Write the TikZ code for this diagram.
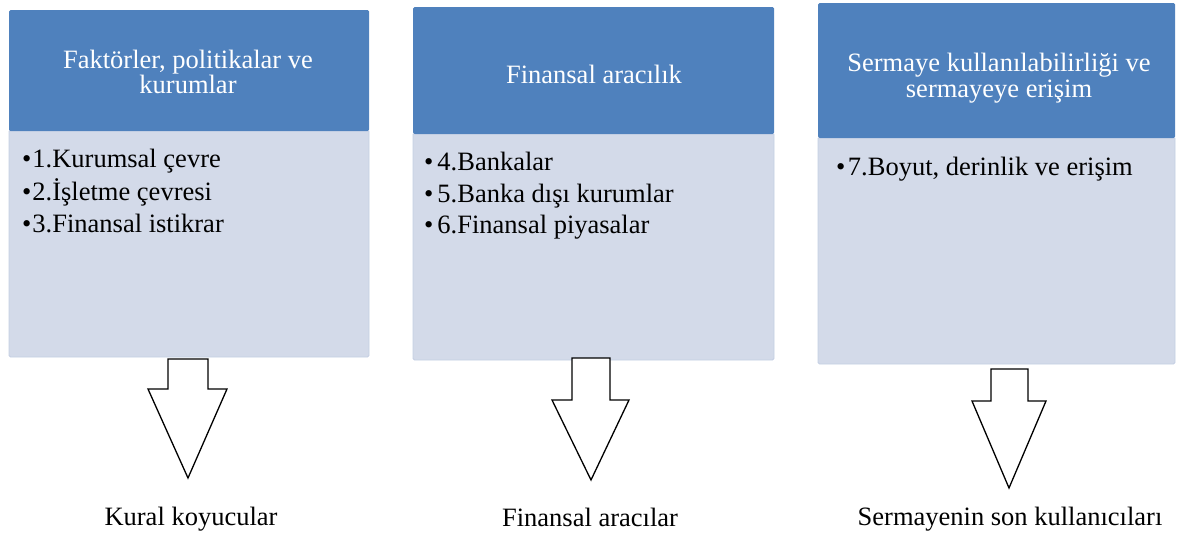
\documentclass[tikz,border=0pt]{standalone}
\usepackage{fontspec}
\setmainfont{Liberation Serif}
\definecolor{hdr}{HTML}{4F81BD}
\definecolor{bodyc}{HTML}{D3DAE9}
\definecolor{bodyline}{HTML}{C4CFE3}
\begin{document}
\begin{tikzpicture}[x=1pt,y=-1pt,
  hdrbox/.style={fill=hdr, draw=none, rounded corners=1.5pt, outer sep=0pt, inner sep=0pt, anchor=north west},
  bodybox/.style={fill=bodyc, draw=bodyline, line width=0.8pt, rounded corners=1.5pt, outer sep=0pt, inner sep=0pt, anchor=north west},
  htext/.style={anchor=base, inner sep=0pt, text=white, font=\fontsize{26.5}{26}\selectfont},
  btext/.style={anchor=base west, inner sep=0pt, text=black, font=\fontsize{26.5}{32}\selectfont},
  ltext/.style={anchor=base, inner sep=0pt, text=black, font=\fontsize{26.5}{32}\selectfont},
  blockarrow/.style={draw=black, fill=white, line width=1.3pt, line join=miter}
]
\useasboundingbox (0,0) rectangle (1177,533);

% --- column 1
\node[bodybox, minimum width=360pt, minimum height=227pt] (b1) at (9,130) {};
\node[hdrbox, minimum width=360pt, minimum height=121pt] (h1) at (9,10) {};
\node[htext] (h1a) at (188,68) {Faktörler, politikalar ve};
\node[htext] (h1b) at (188,93) {kurumlar};
\node[btext] (i1) at (22,167) {•\hspace{1pt}1.Kurumsal çevre};
\node[btext] (i2) at (22,200) {•\hspace{1pt}2.İşletme çevresi};
\node[btext] (i3) at (22,232) {•\hspace{1pt}3.Finansal istikrar};

% --- column 2
\node[bodybox, minimum width=361pt, minimum height=227pt] (b2) at (413,133) {};
\node[hdrbox, minimum width=361pt, minimum height=127pt] (h2) at (413,7) {};
\node[htext] (h2a) at (594,83) {Finansal aracılık};
\node[btext] (i4) at (424,170) {•\hspace{4pt}4.Bankalar};
\node[btext] (i5) at (424,202) {•\hspace{4pt}5.Banka dışı kurumlar};
\node[btext] (i6) at (424,233) {•\hspace{4pt}6.Finansal piyasalar};

% --- column 3
\node[bodybox, minimum width=357pt, minimum height=227pt] (b3) at (818,137) {};
\node[hdrbox, minimum width=357pt, minimum height=135pt] (h3) at (818,3) {};
\node[htext] (h3a) at (999,71) {Sermaye kullanılabilirliği ve};
\node[htext] (h3b) at (999,97) {sermayeye erişim};
\node[btext] (i7) at (836,175) {•\hspace{2.5pt}7.Boyut, derinlik ve erişim};

% --- block arrows
\draw[blockarrow] (168,359) -- (208,359) -- (208,389) -- (227,389) -- (188,478) -- (148,389) -- (168,389) -- cycle;
\draw[blockarrow] (572,358) -- (610,358) -- (610,400) -- (629,400) -- (591,480) -- (552,400) -- (572,400) -- cycle;
\draw[blockarrow] (991,369) -- (1028,369) -- (1028,401) -- (1046,401) -- (1009,488) -- (972,401) -- (991,401) -- cycle;

% --- bottom labels
\node[ltext] (l1) at (191,525) {Kural koyucular};
\node[ltext] (l2) at (590,526) {Finansal aracılar};
\node[ltext] (l3) at (1010,525) {Sermayenin son kullanıcıları};
\end{tikzpicture}
\end{document}
